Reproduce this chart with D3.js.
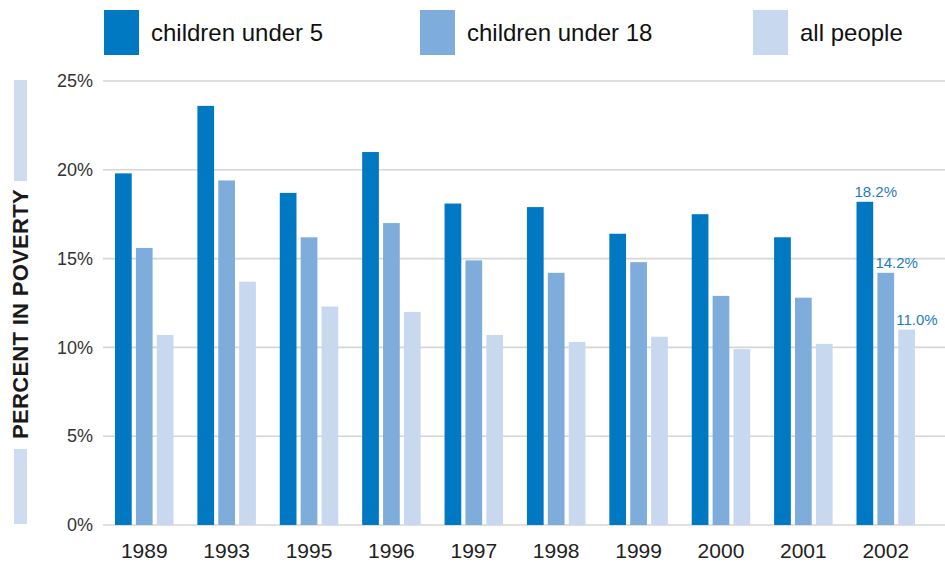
<!DOCTYPE html>
<html>
<head>
<meta charset="utf-8">
<script src="https://cdn.jsdelivr.net/npm/d3@7"></script>
<style>
  body { margin: 0; background: #fff; }
  text { font-family: "Liberation Sans", Arial, sans-serif; }
</style>
</head>
<body>
<div id="chart"></div>
<script>
// data
var years = ["1989", "1993", "1995", "1996", "1997", "1998", "1999", "2000", "2001", "2002"];
var seriesNames = ["children under 5", "children under 18", "all people"];
var under5 = [19.8, 23.6, 18.7, 21.0, 18.1, 17.9, 16.4, 17.5, 16.2, 18.2];
var under18 = [15.6, 19.4, 16.2, 17.0, 14.9, 14.2, 14.8, 12.9, 12.8, 14.2];
var allPeople = [10.7, 13.7, 12.3, 12.0, 10.7, 10.3, 10.6, 9.9, 10.2, 11.0];
var yTicks = [0, 5, 10, 15, 20, 25];
var colors = ["#0079c2", "#7eaddb", "#c8d8ef"];

var width = 945, height = 562;

var svg = d3.select("#chart").append("svg")
    .attr("width", width)
    .attr("height", height);

var x = d3.scaleBand()
    .domain(years)
    .range([115, 915])
    .paddingInner(0.29)
    .paddingOuter(0);

var xSub = d3.scaleBand()
    .domain(seriesNames)
    .range([0, x.bandwidth()])
    .paddingInner(0.2);

var y = d3.scaleLinear()
    .domain([0, 25])
    .range([525, 81]);

// gridlines
svg.append("g")
  .selectAll("line")
  .data(yTicks)
  .enter()
  .append("line")
    .attr("x1", 103)
    .attr("x2", width)
    .attr("y1", function(d) { return y(d); })
    .attr("y2", function(d) { return y(d); })
    .style("stroke", "#d6d6d6")
    .style("stroke-width", 1.6);

// y tick labels
var yAxis = d3.axisLeft(y)
    .tickValues(yTicks)
    .tickSize(0)
    .tickPadding(0)
    .tickFormat(function(d) { return d + "%"; });

svg.append("g")
    .attr("transform", "translate(93,0)")
    .call(yAxis)
    .call(function(g) { g.select(".domain").remove(); })
    .selectAll("text")
    .style("font-size", "18px")
    .style("fill", "#333")
    .style("font-family", "'Liberation Sans', Arial, sans-serif");

// x tick labels
var xAxis = d3.axisBottom(x).tickSize(0).tickPadding(0);
svg.append("g")
    .attr("transform", "translate(0,543)")
    .call(xAxis)
    .call(function(g) { g.select(".domain").remove(); })
    .selectAll("text")
    .style("font-size", "21px")
    .style("fill", "#222")
    .style("font-family", "'Liberation Sans', Arial, sans-serif");

// bars
var rows = years.map(function(yr, i) {
  return {year: yr, values: [under5[i], under18[i], allPeople[i]]};
});

var groups = svg.selectAll(".grp")
    .data(rows)
    .enter()
    .append("g")
    .attr("class", "grp")
    .attr("transform", function(d) { return "translate(" + x(d.year) + ",0)"; });

groups.selectAll("rect")
    .data(function(d) { return d.values.map(function(v, j) { return {name: seriesNames[j], value: v, idx: j}; }); })
    .enter()
    .append("rect")
    .attr("x", function(d) { return xSub(d.name); })
    .attr("width", xSub.bandwidth())
    .attr("y", function(d) { return y(d.value); })
    .attr("height", function(d) { return y(0) - y(d.value); })
    .style("fill", function(d) { return colors[d.idx]; });

// value labels on the last year
var last = rows[rows.length - 1];
svg.selectAll(".valLabel")
    .data(last.values)
    .enter()
    .append("text")
    .attr("class", "valLabel")
    .attr("x", function(d, j) { return x(last.year) + xSub(seriesNames[j]) - 2; })
    .attr("y", function(d) { return y(d) - 5; })
    .style("font-size", "15px")
    .style("fill", "#1f7cc2")
    .text(function(d) { return d.toFixed(1) + "%"; });

// legend
var legendX = [104, 420, 753];
var legend = svg.selectAll(".legend")
    .data(seriesNames)
    .enter()
    .append("g")
    .attr("class", "legend")
    .attr("transform", function(d, i) { return "translate(" + legendX[i] + ",10)"; });

legend.append("rect")
    .attr("width", 35)
    .attr("height", 45)
    .style("fill", function(d, i) { return colors[i]; });

legend.append("text")
    .attr("x", 47)
    .attr("y", 23)
    .attr("dy", "0.35em")
    .style("font-size", "24px")
    .style("fill", "#111")
    .text(function(d) { return d; });

// y axis title with the light bar above and below it
var titleY = 314;
var title = svg.append("text")
    .attr("transform", "translate(20," + titleY + ") rotate(-90)")
    .attr("dy", "0.35em")
    .style("text-anchor", "middle")
    .style("font-size", "22px")
    .style("font-weight", "bold")
    .style("letter-spacing", "0.3px")
    .style("fill", "#1a1a1a")
    .text("PERCENT IN POVERTY");

var tw = title.node().getComputedTextLength();
svg.append("rect")
    .attr("x", 14).attr("width", 13)
    .attr("y", 80).attr("height", titleY - tw / 2 - 8 - 80)
    .style("fill", "#cfdcef");
svg.append("rect")
    .attr("x", 14).attr("width", 13)
    .attr("y", titleY + tw / 2 + 10).attr("height", 524 - (titleY + tw / 2 + 10))
    .style("fill", "#cfdcef");
</script>
</body>
</html>
